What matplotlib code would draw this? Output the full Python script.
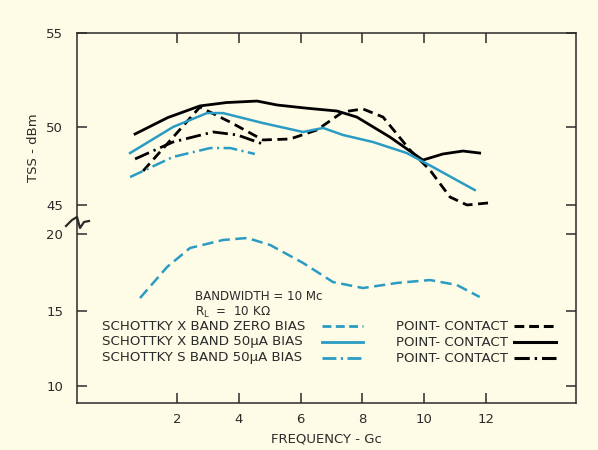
import numpy as np
import matplotlib
matplotlib.use("Agg")
import matplotlib.pyplot as plt
from matplotlib.lines import Line2D

BG = "#fefbe6"
INK = "#2b2b2b"
BLUE = "#2a9bc3"

# --- data (frequency in Gc, TSS in dBm) ---
pc_solid_f = [0.64, 1.7, 2.74, 3.6, 4.59, 5.24, 6.2, 7.18, 7.82, 8.89, 9.96, 10.61, 11.26, 11.8]
pc_solid_tss = [49.55, 50.5, 51.12, 51.3, 51.38, 51.17, 51.0, 50.85, 50.53, 49.36, 47.88, 48.27, 48.46, 48.33]

pc_dash_f = [0.90, 2.74, 3.72, 4.78, 5.66, 6.53, 7.37, 8.02, 8.67, 9.54, 10.19, 10.84, 11.39, 12.07]
pc_dash_tss = [47.18, 51.06, 50.26, 49.17, 49.23, 49.81, 50.80, 50.96, 50.53, 48.53, 47.24, 45.51, 45.0, 45.13]

pc_dashdot_f = [0.64, 1.87, 3.17, 3.95, 4.78]
pc_dashdot_tss = [47.95, 49.04, 49.68, 49.49, 48.91]

sx50_f = [0.48, 1.87, 2.97, 3.49, 4.78, 6.08, 6.73, 7.37, 8.34, 9.44, 10.28, 11.05, 11.64]
sx50_tss = [48.33, 50.0, 50.74, 50.74, 50.21, 49.68, 49.94, 49.49, 49.04, 48.33, 47.44, 46.6, 45.96]

ss50_f = [0.48, 1.87, 3.07, 3.72, 4.52]
ss50_tss = [46.79, 48.08, 48.65, 48.65, 48.27]

sx0_f = [0.80, 1.68, 2.42, 3.49, 4.27, 5.01, 6.08, 7.05, 8.02, 9.12, 10.19, 11.06, 11.8]
sx0_tss = [15.84, 17.86, 19.09, 19.61, 19.74, 19.29, 18.12, 16.88, 16.49, 16.82, 17.01, 16.69, 15.91]

x_ticks = [2, 4, 6, 8, 10, 12]
y_ticks = [10, 15, 20, 45, 50, 55]

# broken y axis: dBm -> drawing position
brk_db = [0, 10, 15, 20, 45, 50, 55, 60]
brk_pos = [-538, -386, -311, -234, -205, -127, -33, 61]


def fwd(v):
    return np.interp(v, brk_db, brk_pos)


def inv(v):
    return np.interp(v, brk_pos, brk_db)


def P(x, y):
    # pixel position in the 598x450 image -> figure fraction
    return x / 598, 1 - y / 450


plt.rcParams["font.family"] = ["DejaVu Sans"]
fig = plt.figure(figsize=(5.98, 4.5), dpi=100, facecolor=BG)
ax = fig.add_axes([77 / 598, 1 - 403 / 450, (576 - 77) / 598, (403 - 33) / 450])
ax.set_facecolor(BG)
ax.set_yscale("function", functions=(fwd, inv))
ax.set_xlim(-1.24, 14.92)
ax.set_ylim(8.88, 55)

ax.plot(pc_solid_f, pc_solid_tss, color="black", lw=2.0)
ax.plot(pc_dash_f, pc_dash_tss, color="black", lw=2.0, dashes=(3.6, 2))
ax.plot(pc_dashdot_f, pc_dashdot_tss, color="black", lw=2.0, dashes=(5.5, 1.8, 0.8, 1.8))
ax.plot(sx50_f, sx50_tss, color=BLUE, lw=1.8)
ax.plot(ss50_f, ss50_tss, color=BLUE, lw=1.8, dashes=(5.5, 1.8, 0.8, 1.8))
ax.plot(sx0_f, sx0_tss, color=BLUE, lw=1.8, dashes=(4.5, 2.2))

for s in ax.spines.values():
    s.set_color(INK)
    s.set_linewidth(1.1)

ax.set_xticks(x_ticks)
ax.set_yticks(y_ticks)
ax.set_yticklabels([str(t) for t in y_ticks])
ax.yaxis.set_minor_locator(matplotlib.ticker.NullLocator())
ax.tick_params(axis="both", direction="in", length=7, width=1.1, color=INK,
               labelcolor=INK, labelsize=9.5, top=True, right=True)
ax.tick_params(axis="y", pad=10)
ax.tick_params(axis="x", pad=7)

ax.set_xlabel("FREQUENCY - Gc", fontsize=9.5, color=INK, labelpad=5)
ax.set_ylabel("TSS - dBm", fontsize=9.5, color=INK)
ax.yaxis.set_label_coords(-0.074, 0.69)

# break mark on the left spine
zx = [66, 72, 77, 80, 84, 89]
zy = [226, 220, 217, 228, 222, 221]
fig.add_artist(Line2D([P(a, b)[0] for a, b in zip(zx, zy)],
                      [P(a, b)[1] for a, b in zip(zx, zy)],
                      color=INK, lw=1.6))

# notes
fig.text(*P(195, 296), "BANDWIDTH = 10 Mc", fontsize=8.6, color=INK, va="center")
fig.text(*P(195, 312), r"R$_\mathregular{L}$  =  10 K$\Omega$", fontsize=8.6, color=INK, va="center")

# legend
fs = 9.6
left_rows = ["SCHOTTKY X BAND ZERO BIAS", "SCHOTTKY X BAND 50\u03bcA BIAS", "SCHOTTKY S BAND 50\u03bcA BIAS"]
styles = [dict(dashes=(3.2, 1.6)), dict(), dict(dashes=(5, 1.6, 0.8, 1.6))]
row_y = [326, 342, 358]
for lab, st, y in zip(left_rows, styles, row_y):
    fig.text(*P(102, y), lab, fontsize=fs, color=INK, va="center")
    x0, y0 = P(322, y)
    x1, _ = P(363, y)
    fig.add_artist(Line2D([x0, x1], [y0, y0], color=BLUE, lw=2.0, **st))
    fig.text(*P(396, y), "POINT- CONTACT", fontsize=fs, color=INK, va="center")
    x0, _ = P(514, y)
    x1, _ = P(556, y)
    fig.add_artist(Line2D([x0, x1], [y0, y0], color="black", lw=2.2, **st))

fig.savefig("out.png", dpi=100, facecolor=BG)
